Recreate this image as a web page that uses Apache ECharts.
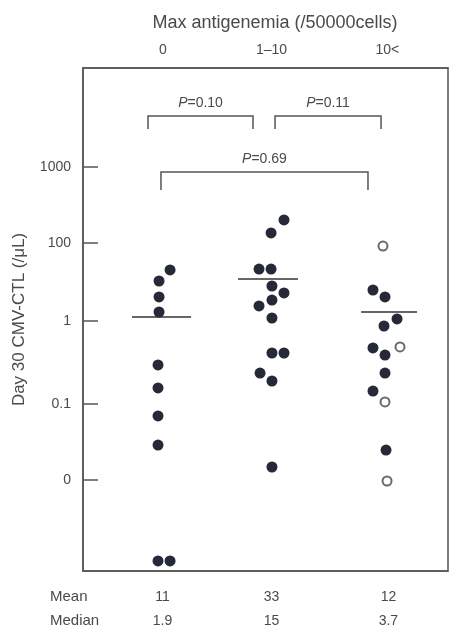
<!DOCTYPE html>
<html><head><meta charset="utf-8">
<script src="https://cdn.jsdelivr.net/npm/echarts@6/dist/echarts.min.js"></script>
<style>html,body{margin:0;padding:0;background:#fff}#c{width:452px;height:627px}</style>
</head><body><div id="c"></div>
<script>
// Axis position units: y ticks are evenly-ish spaced bands of the printed scale
const yTickLabels = ['0', '0.1', '1', '100', '1000'];
const yTickValues = [0, 0.971, 2.032, 3.029, 4.0];
const categories = ['0', '1\u201310', '10<'];
const meanValues = ['11', '33', '12'];
const medianValues = ['1.9', '15', '3.7'];

// [x (group index + jitter), y (axis units)]
const filledGroup0 = [[0.106,2.684],[0.009,2.543],[0.009,2.339],[0.009,2.147],[0,1.470],[0,1.176],[0,0.818],[0,0.447],[0,-1.035],[0.106,-1.035]];
const filledGroup1 = [[1.110,3.323],[0.996,3.157],[0.890,2.696],[0.996,2.696],[1.004,2.479],[1.110,2.390],[1.004,2.300],[0.890,2.224],[1.004,2.070],[1.004,1.623],[1.110,1.623],[0.899,1.367],[1.004,1.265],[1.004,0.166]];
const filledGroup2 = [[1.894,2.428],[2.0,2.339],[2.106,2.058],[1.991,1.968],[1.894,1.687],[2.0,1.597],[2.0,1.367],[1.894,1.137],[2.009,0.383]];
const openGroup2 = [[1.982,2.990],[2.132,1.700],[2.0,0.997],[2.018,-0.013]];

// mean lines: [xStart, xEnd, y]
const meanLines = [[-0.229,0.291,2.083],[0.705,1.233,2.569],[1.789,2.282,2.147]];
// brackets: [xLeft, xRight, yTop, yLegEnd, label]
const brackets = [[-0.088,0.837,4.652,4.486,'0.10'],[1.031,1.965,4.652,4.486,'0.11'],[0.026,1.850,3.936,3.706,'0.69']];

const textColor = '#4a4a4a';
const dotColor = '#262a38';
const font = "'Liberation Sans', Arial, sans-serif";

const chart = echarts.init(document.getElementById('c'));
const xRange = {min: -0.661, max: 2.555};
const dotStyle = {color: dotColor, opacity: 1};
const botPos = [0.04, 1.0, 2.03];
const topPos = [0.044, 1.0, 2.02];
chart.setOption({
  animation: false,
  textStyle: {fontFamily: font},
  grid: {left: 83, right: 4, top: 68, bottom: 56, outerBoundsMode: 'none', containLabel: false,
         show: true, borderColor: '#555', borderWidth: 1.5, backgroundColor: 'transparent'},
  xAxis: [
    {type: 'value', position: 'bottom', min: xRange.min, max: xRange.max,
     splitLine: {show: false}, axisTick: {show: false},
     axisLine: {show: true, onZero: false, lineStyle: {color: '#555', width: 1.5}},
     axisLabel: {customValues: botPos, margin: 14, color: textColor, fontSize: 14, lineHeight: 24,
       formatter: (v) => { const i = botPos.indexOf(v); return i < 0 ? '' : meanValues[i] + '\n' + medianValues[i]; }}},
    {type: 'value', position: 'top', min: xRange.min, max: xRange.max,
     splitLine: {show: false}, axisTick: {show: false},
     axisLine: {show: true, onZero: false, lineStyle: {color: '#555', width: 1.5}},
     axisLabel: {customValues: topPos, margin: 11, color: textColor, fontSize: 14,
       formatter: (v) => { const i = topPos.indexOf(v); return i < 0 ? '' : categories[i]; }}}
  ],
  yAxis: {type: 'value', min: -1.163, max: 5.265,
    name: 'Day 30 CMV-CTL (/\u03bcL)', nameLocation: 'middle', nameGap: 55, nameRotate: 90,
    nameTextStyle: {color: textColor, fontSize: 17},
    splitLine: {show: false},
    axisLine: {show: true, onZero: false, lineStyle: {color: '#555', width: 1.5}},
    axisTick: {customValues: yTickValues, inside: true, length: 15, lineStyle: {color: '#555', width: 1.5}},
    axisLabel: {customValues: yTickValues, margin: 12, color: textColor, fontSize: 14,
      formatter: (v) => { const i = yTickValues.indexOf(v); return i < 0 ? '' : yTickLabels[i]; }}
  },
  graphic: [
    {type: 'text', x: 275, y: 23, style: {text: 'Max antigenemia (/50000cells)', font: '18px ' + font, fill: textColor, align: 'center', verticalAlign: 'middle'}},
    {type: 'text', x: 50, y: 597, style: {text: 'Mean', font: '15px ' + font, fill: textColor, align: 'left', verticalAlign: 'middle'}},
    {type: 'text', x: 50, y: 621, style: {text: 'Median', font: '15px ' + font, fill: textColor, align: 'left', verticalAlign: 'middle'}}
  ],
  series: [
    {type: 'scatter', data: filledGroup0, symbolSize: 11, itemStyle: dotStyle},
    {type: 'scatter', data: filledGroup1, symbolSize: 11, itemStyle: dotStyle},
    {type: 'scatter', data: filledGroup2, symbolSize: 11, itemStyle: dotStyle},
    {type: 'scatter', data: openGroup2, symbolSize: 9, itemStyle: {color: '#fff', borderColor: '#6a6a6a', borderWidth: 2, opacity: 1}},
    {type: 'custom', data: meanLines, silent: true,
     renderItem: (params, api) => {
       const a = api.coord([api.value(0), api.value(2)]);
       const b = api.coord([api.value(1), api.value(2)]);
       return {type: 'line', shape: {x1: a[0], y1: a[1], x2: b[0], y2: b[1]}, style: {stroke: '#333', lineWidth: 1.5}};
     }},
    {type: 'custom', data: brackets.map(b => b.slice(0, 4)), silent: true,
     renderItem: (params, api) => {
       const tl = api.coord([api.value(0), api.value(2)]);
       const tr = api.coord([api.value(1), api.value(2)]);
       const bl = api.coord([api.value(0), api.value(3)]);
       const br = api.coord([api.value(1), api.value(3)]);
       const label = brackets[params.dataIndex][4];
       return {type: 'group', children: [
         {type: 'polyline', shape: {points: [bl, tl, tr, br]}, style: {stroke: '#555', lineWidth: 1.5, fill: null}},
         {type: 'text', x: (tl[0] + tr[0]) / 2, y: tl[1] - 13,
          style: {text: '{i|P}=' + label, align: 'center', verticalAlign: 'middle', fill: textColor,
            font: '14px ' + font,
            rich: {i: {fontStyle: 'italic', fontSize: 14, fontFamily: font, fill: textColor}}}}
       ]};
     }}
  ]
});
</script></body></html>
